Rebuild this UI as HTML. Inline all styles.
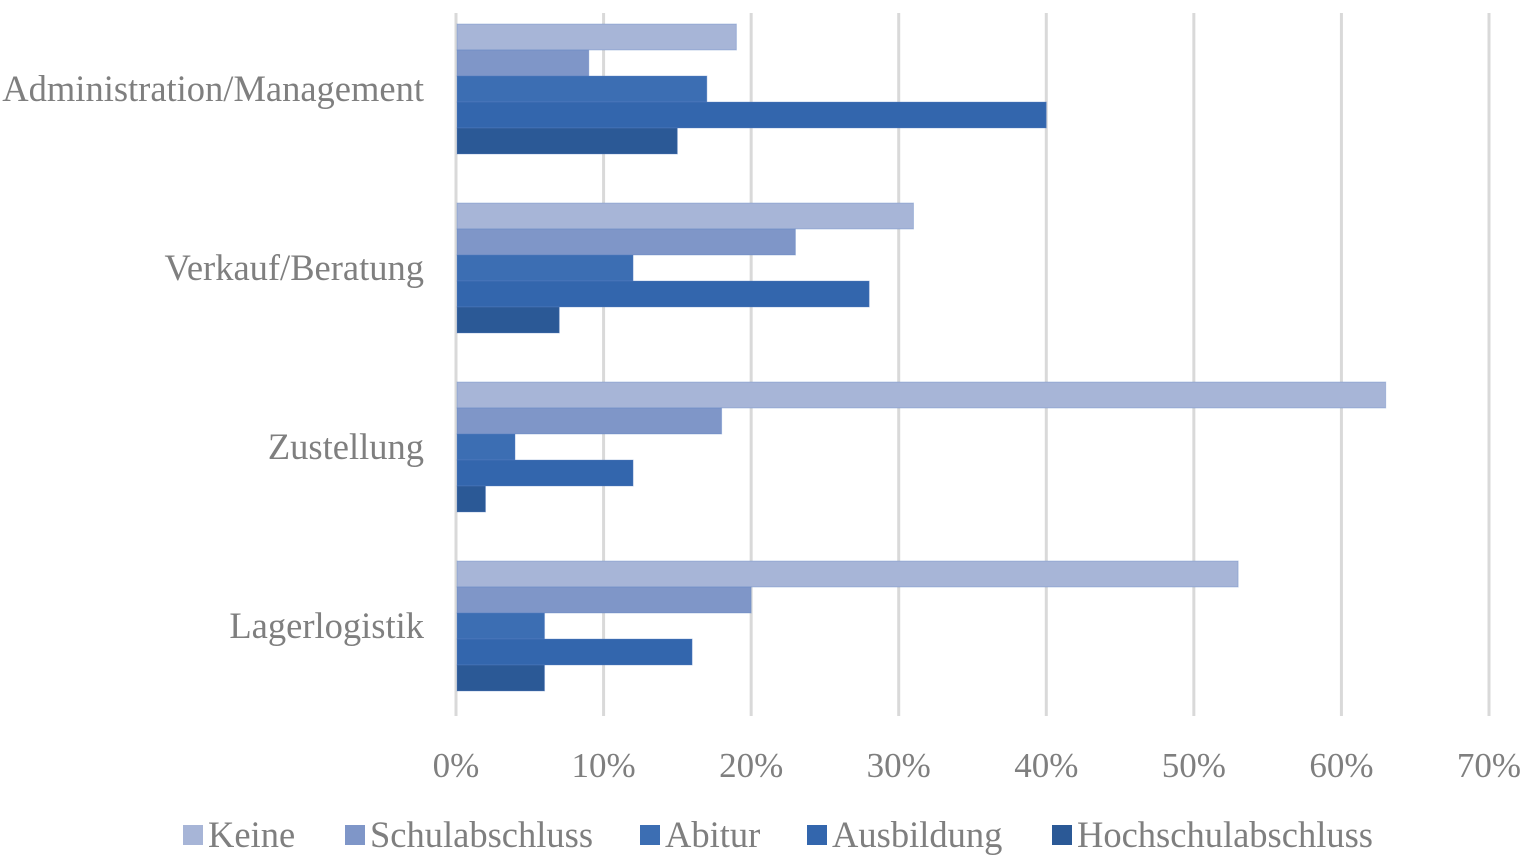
<!DOCTYPE html>
<html><head><meta charset="utf-8"><style>
html,body{margin:0;padding:0;background:#fff;}
svg text{font-family:"Liberation Serif",serif;fill:#7f7f7f;}
</style></head><body>
<svg id="chart" width="1524" height="859" xmlns="http://www.w3.org/2000/svg">
<g id="grid"></g><g id="bars"></g><g id="labels"></g><g id="legend"></g>
</svg>
<script>
const categories = ["Administration/Management","Verkauf/Beratung","Zustellung","Lagerlogistik"];
const seriesNames = ["Keine","Schulabschluss","Abitur","Ausbildung","Hochschulabschluss"];
const keine = [19,31,63,53];
const schul = [9,23,18,20];
const abitur = [17,12,4,6];
const ausbildung = [40,28,12,16];
const hochschul = [15,7,2,6];
const ticks = [0,10,20,30,40,50,60,70];
const series = [keine,schul,abitur,ausbildung,hochschul];
const colors = ["#a7b5d7","#7f96c8","#3c6eb3","#3366ad","#2b5996"];
const NS="http://www.w3.org/2000/svg";
const x0=456,x1=1489,xmax=70,plotTop=13,band=179,barH=26,groupOff=11;
const xs=v=>x0+(x1-x0)*v/xmax;
function mk(tag,attrs,parent,txt){const e=document.createElementNS(NS,tag);for(const k in attrs)e.setAttribute(k,attrs[k]);if(txt!==undefined)e.textContent=txt;document.getElementById(parent).appendChild(e);return e;}
ticks.forEach(t=>{
  const l=mk("line",{x1:xs(t),x2:xs(t),y1:plotTop,y2:716,stroke:"#d9d9d9","stroke-width":3},"grid");
  
  
  const tx=mk("text",{x:xs(t),y:777,"text-anchor":"middle","font-size":35},"labels",t+"%");
  
  
});
categories.forEach((c,i)=>{
  const gy=plotTop+i*band+groupOff;
  series.forEach((s,j)=>{
    const r=mk("rect",{x:x0+1,y:gy+j*barH,width:Math.max(0,xs(s[i])-x0-1),height:barH,fill:colors[j],stroke:"#5b82c4","stroke-opacity":0.35,"stroke-width":1},"bars");
    
    
  });
  const t=mk("text",{x:424,y:gy+2.5*barH+12,"text-anchor":"end","font-size":36.5},"labels",c);
  
  
});
const legX=[183,345,640,807,1052];
seriesNames.forEach((n,j)=>{
  const r=mk("rect",{x:legX[j],y:825,width:20,height:20,fill:colors[j]},"legend");
  
  
  const t=mk("text",{x:legX[j]+25,y:847,"font-size":36.5},"legend",n);
  
  
});
</script>
</body></html>
